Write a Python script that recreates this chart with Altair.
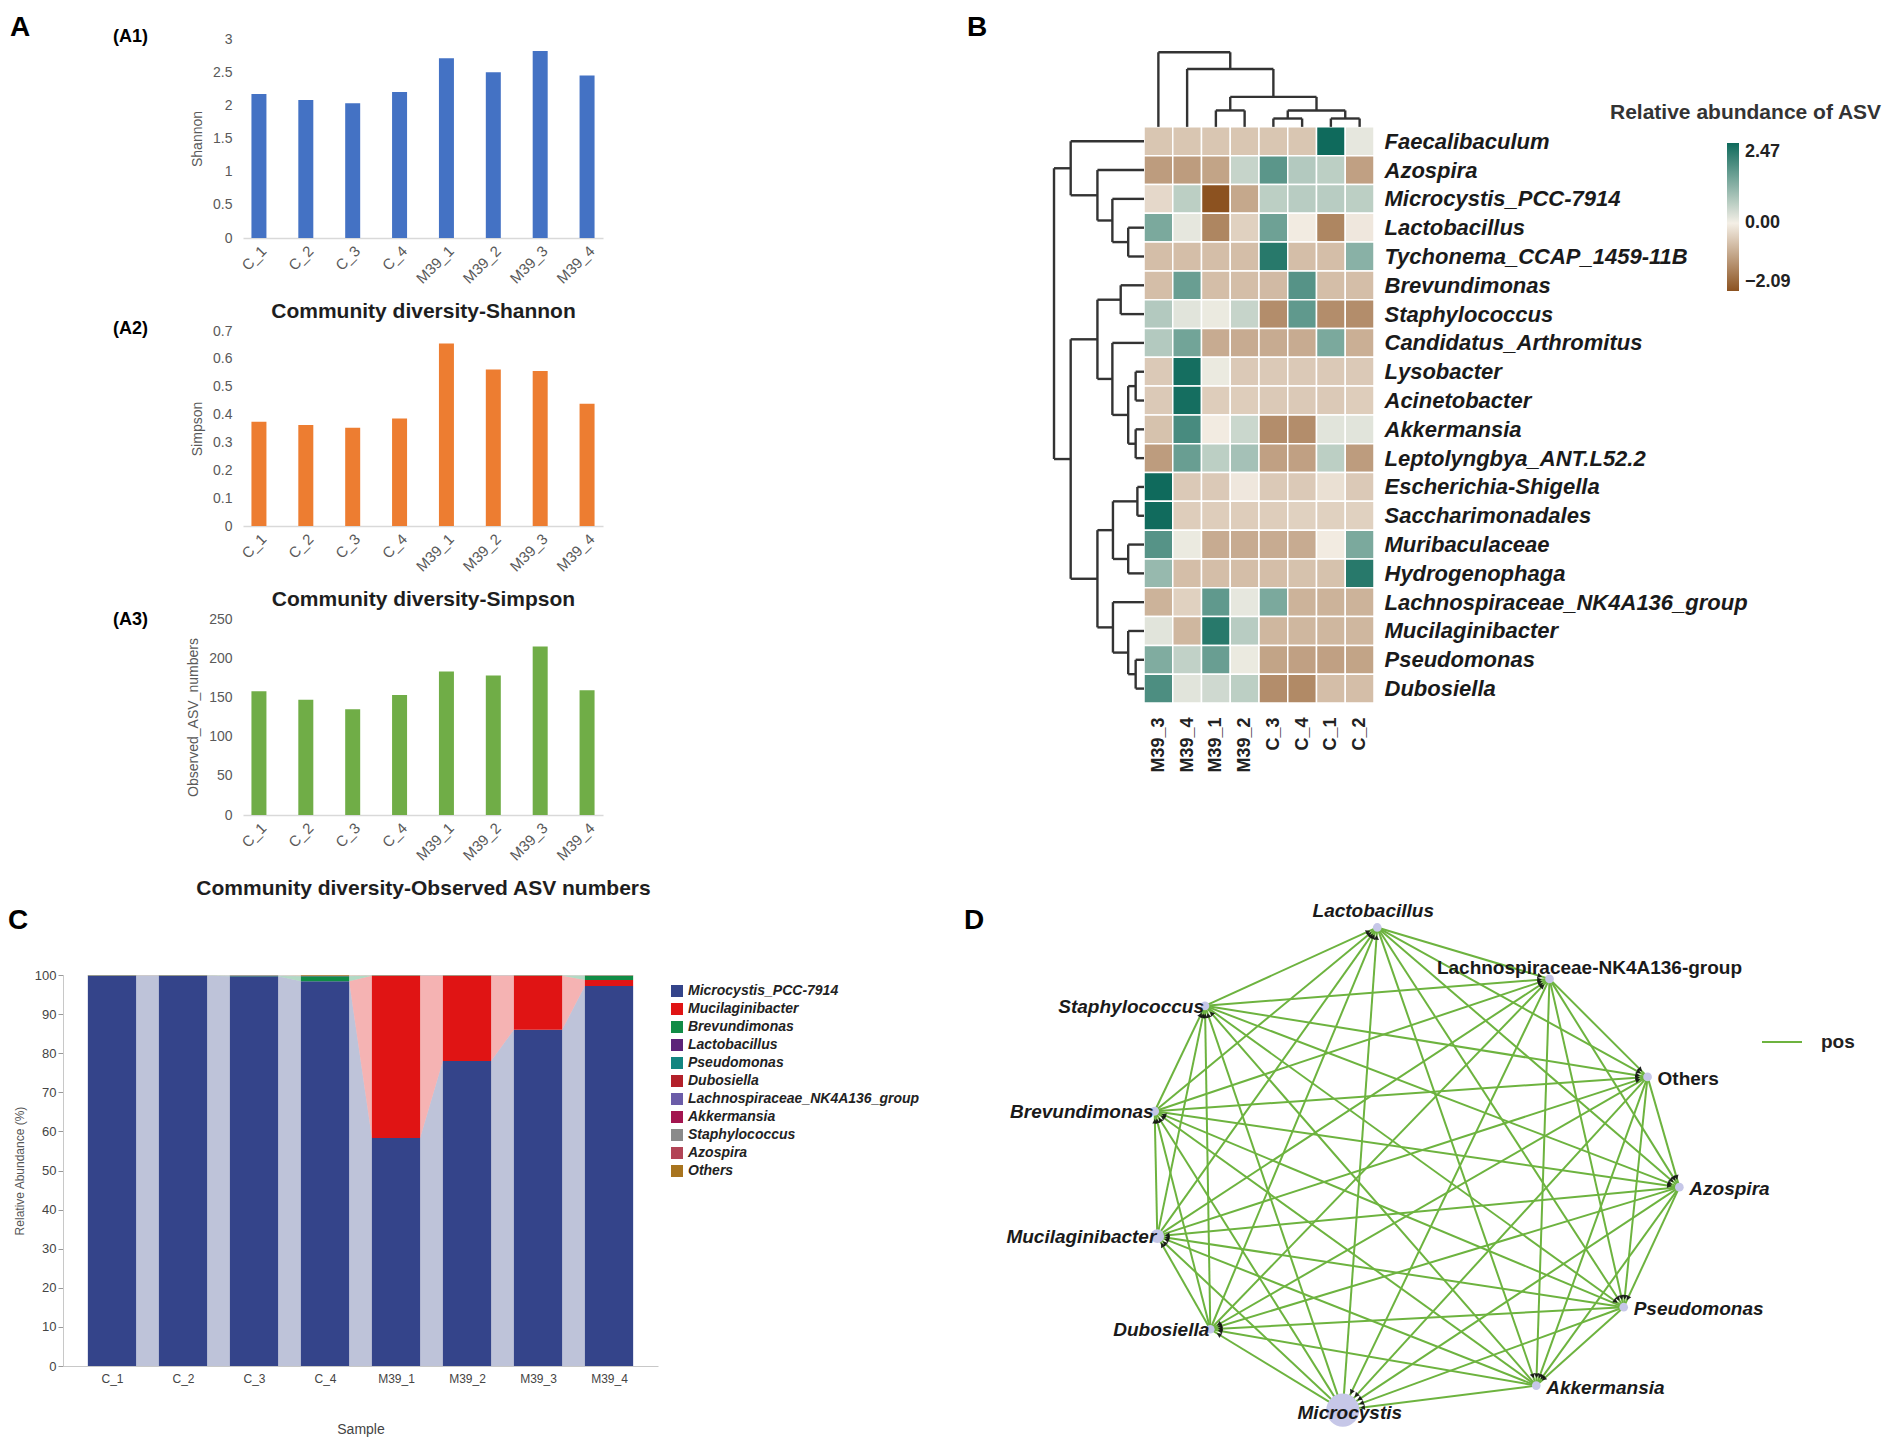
import math
import altair as alt
import pandas as pd

W, H = 1886, 1436
FONT = "Liberation Sans"
GREY = "#595959"

# ---------------- Panel A data ----------------
samples = ["C_1", "C_2", "C_3", "C_4", "M39_1", "M39_2", "M39_3", "M39_4"]
shannon = [2.17, 2.08, 2.03, 2.20, 2.71, 2.50, 2.82, 2.45]
simpson = [0.374, 0.363, 0.353, 0.386, 0.655, 0.562, 0.556, 0.439]
observed_asv = [158, 147, 135, 153, 183, 178, 215, 159]
shannon_ticks = [0, 0.5, 1, 1.5, 2, 2.5, 3]
simpson_ticks = [0, 0.1, 0.2, 0.3, 0.4, 0.5, 0.6, 0.7]
observed_ticks = [0, 50, 100, 150, 200, 250]

# ---------------- Panel B data ----------------
hm_rows = ["Faecalibaculum", "Azospira", "Microcystis_PCC-7914", "Lactobacillus",
           "Tychonema_CCAP_1459-11B", "Brevundimonas", "Staphylococcus",
           "Candidatus_Arthromitus", "Lysobacter", "Acinetobacter", "Akkermansia",
           "Leptolyngbya_ANT.L52.2", "Escherichia-Shigella", "Saccharimonadales",
           "Muribaculaceae", "Hydrogenophaga", "Lachnospiraceae_NK4A136_group",
           "Mucilaginibacter", "Pseudomonas", "Dubosiella"]
hm_cols = ["M39_3", "M39_4", "M39_1", "M39_2", "C_3", "C_4", "C_1", "C_2"]
hm_values = [
    [-0.55, -0.55, -0.55, -0.55, -0.55, -0.55, 2.47, 0.15],
    [-1.1, -1.1, -1.0, 0.5, 1.65, 0.7, 0.6, -1.05],
    [-0.3, 0.6, -2.09, -0.95, 0.6, 0.65, 0.65, 0.6],
    [1.3, 0.15, -1.4, -0.4, 1.45, -0.05, -1.4, -0.1],
    [-0.65, -0.65, -0.65, -0.65, 2.2, -0.65, -0.65, 1.15],
    [-0.65, 1.5, -0.65, -0.65, -0.7, 1.7, -0.65, -0.65],
    [0.7, 0.2, 0.1, 0.5, -1.3, 1.6, -1.3, -1.3],
    [0.7, 1.4, -0.9, -0.9, -0.9, -0.9, 1.3, -0.85],
    [-0.5, 2.4, 0.1, -0.5, -0.5, -0.5, -0.5, -0.5],
    [-0.5, 2.4, -0.45, -0.45, -0.5, -0.5, -0.5, -0.45],
    [-0.6, 1.85, -0.05, 0.45, -1.3, -1.3, 0.2, 0.2],
    [-1.1, 1.5, 0.6, 0.85, -1.05, -1.05, 0.6, -1.1],
    [2.47, -0.5, -0.5, -0.1, -0.5, -0.5, -0.2, -0.5],
    [2.45, -0.45, -0.45, -0.45, -0.45, -0.4, -0.4, -0.4],
    [1.7, 0.1, -0.9, -0.9, -0.9, -0.9, -0.05, 1.3],
    [1.0, -0.65, -0.65, -0.65, -0.65, -0.6, -0.6, 2.2],
    [-0.8, -0.4, 1.6, 0.15, 1.3, -0.8, -0.8, -0.8],
    [0.2, -0.75, 2.2, 0.65, -0.75, -0.75, -0.75, -0.75],
    [1.25, 0.55, 1.5, 0.1, -1.0, -1.05, -1.05, -1.0],
    [1.8, 0.2, 0.4, 0.6, -1.3, -1.35, -0.65, -0.65],
]
# hierarchical clustering merges: (child a, child b, height in cell units)
row_merges = [(3, 4, 0.55), (2, 20, 1.10), (1, 21, 1.62), (0, 22, 2.55),
              (5, 6, 0.81), (8, 9, 0.29), (10, 11, 0.29), (25, 26, 0.55),
              (7, 27, 1.10), (24, 28, 1.62), (12, 13, 0.23), (14, 15, 0.55),
              (30, 31, 1.08), (18, 19, 0.29), (17, 33, 0.55), (16, 34, 1.08),
              (32, 35, 1.62), (29, 36, 2.55), (23, 37, 3.13)]
col_merges = [(4, 5, 0.29), (6, 7, 0.29), (8, 9, 0.57), (2, 3, 0.57),
              (11, 10, 1.04), (1, 12, 2.01), (0, 13, 2.59)]
hm_legend_ticks = [-2.09, 0, 2.47]

# ---------------- Panel C data ----------------
taxa = ["Microcystis_PCC-7914", "Mucilaginibacter", "Brevundimonas", "Lactobacillus",
        "Pseudomonas", "Dubosiella", "Lachnospiraceae_NK4A136_group", "Akkermansia",
        "Staphylococcus", "Azospira", "Others"]
taxa_colors = ["#34448a", "#e01414", "#108c46", "#5c2479", "#128580", "#b3202a",
               "#6b5ca8", "#a3154f", "#8a8a8a", "#b24456", "#a8741e"]
microcystis = [99.80, 99.80, 99.70, 98.40, 58.30, 78.00, 86.00, 97.20]
mucilaginibacter = [0.00, 0.00, 0.00, 0.00, 41.50, 21.80, 13.80, 1.50]
brevundimonas = [0.05, 0.05, 0.05, 1.30, 0.05, 0.05, 0.05, 1.10]
lactobacillus = [0.02, 0.02, 0.02, 0.02, 0.02, 0.02, 0.02, 0.02]
pseudomonas = [0.01, 0.01, 0.01, 0.01, 0.02, 0.02, 0.02, 0.01]
dubosiella = [0.01, 0.01, 0.01, 0.01, 0.01, 0.01, 0.01, 0.01]
lachnospiraceae = [0.03, 0.03, 0.10, 0.05, 0.03, 0.03, 0.03, 0.05]
akkermansia = [0.01, 0.01, 0.01, 0.01, 0.01, 0.01, 0.01, 0.01]
staphylococcus = [0.01, 0.01, 0.01, 0.01, 0.01, 0.01, 0.01, 0.01]
azospira = [0.01, 0.01, 0.01, 0.01, 0.01, 0.01, 0.01, 0.01]
others = [0.05, 0.05, 0.08, 0.18, 0.04, 0.04, 0.04, 0.08]
composition = [microcystis, mucilaginibacter, brevundimonas, lactobacillus, pseudomonas,
               dubosiella, lachnospiraceae, akkermansia, staphylococcus, azospira, others]
c_ticks = [0, 10, 20, 30, 40, 50, 60, 70, 80, 90, 100]

# ---------------- Panel D data ----------------
net_nodes = ["Lactobacillus", "Lachnospiraceae-NK4A136-group", "Others", "Azospira",
             "Pseudomonas", "Akkermansia", "Microcystis", "Dubosiella",
             "Mucilaginibacter", "Brevundimonas", "Staphylococcus"]
net_x = [-0.15, 0.50, 0.87, 0.99, 0.78, 0.45, -0.28, -0.78, -0.98, -0.99, -0.80]
net_y = [0.99, 0.78, 0.38, -0.07, -0.56, -0.88, -0.98, -0.65, -0.27, 0.24, 0.67]
net_abund = [0.04, 0.05, 0.10, 0.01, 0.02, 0.01, 89.7, 0.01, 9.8, 0.3, 0.01]


# =============== Panel A ===============
def alpha_panel(values, ticks, color, ytitle, xtitle, y_top, y_bottom):
    df = pd.DataFrame({"sample": samples, "value": values})
    return alt.Chart(df).mark_bar(color=color).encode(
        x=alt.X("sample:N", sort=samples,
                scale=alt.Scale(range=[235, 595], paddingInner=0.68, paddingOuter=0.18),
                axis=alt.Axis(orient="bottom", offset=y_bottom - H, title=xtitle,
                              labelAngle=-45, ticks=False, domainColor="#d9d9d9",
                              domainWidth=1.5, labelColor=GREY, labelFontSize=15,
                              labelPadding=5, titleFontSize=21, titleFontWeight="bold",
                              titleColor="#1e1e1e", titlePadding=14, grid=False)),
        y=alt.Y("value:Q",
                scale=alt.Scale(domain=[ticks[0], ticks[-1]], range=[y_bottom, y_top],
                                nice=False, zero=True),
                axis=alt.Axis(orient="left", offset=-235, values=ticks,
                              labelExpr="format(datum.value, '~g')", domain=False,
                              ticks=False, grid=False, labelColor=GREY, labelFontSize=14,
                              labelPadding=11, title=ytitle, titleFontSize=14,
                              titleFontWeight="normal", titleColor=GREY, titlePadding=8)),
    )


a1 = alpha_panel(shannon, shannon_ticks, "#4472c4", "Shannon",
                 "Community diversity-Shannon", 31, 230)
a2 = alpha_panel(simpson, simpson_ticks, "#ed7d31", "Simpson",
                 "Community diversity-Simpson", 323, 518)
a3 = alpha_panel(observed_asv, observed_ticks, "#70ad47", "Observed_ASV_numbers",
                 "Community diversity-Observed ASV numbers", 611, 807)

# =============== Panel B ===============
hm_records = []
for r, name in enumerate(hm_rows):
    for c, col in enumerate(hm_cols):
        hm_records.append({"row": name, "col": col, "r0": r, "r1": r + 1,
                           "c0": c, "c1": c + 1, "v": hm_values[r][c]})
hm_df = pd.DataFrame(hm_records)


def dendro(merges, n):
    pos = {i: i + 0.5 for i in range(n)}
    hgt = {i: 0.0 for i in range(n)}
    segs = []
    for k, (a, b, h) in enumerate(merges):
        for ch in (a, b):
            segs.append((pos[ch], hgt[ch], pos[ch], h))
        segs.append((pos[a], h, pos[b], h))
        pos[n + k] = (pos[a] + pos[b]) / 2
        hgt[n + k] = h
    return segs


seg_records = []
for p1, h1, p2, h2 in dendro(col_merges, len(hm_cols)):
    seg_records.append({"x": p1, "x2": p2, "y": -h1, "y2": -h2})
for p1, h1, p2, h2 in dendro(row_merges, len(hm_rows)):
    seg_records.append({"x": -h1, "x2": -h2, "y": p1, "y2": p2})
seg_df = pd.DataFrame(seg_records)


def bx():
    return alt.Scale(domain=[-3.2, 8], range=[1044, 1366], nice=False, zero=False)


def by():
    return alt.Scale(domain=[-3.05, 20], range=[31, 695], nice=False, zero=False)


row_expr = "[" + ",".join("'" + n + "'" for n in hm_rows) + "][floor(datum.value)]"
col_expr = "[" + ",".join("'" + n + "'" for n in hm_cols) + "][floor(datum.value)]"

heat = alt.Chart(hm_df).mark_rect(stroke="white", strokeWidth=1.5).encode(
    x=alt.X("c0:Q", scale=bx(),
            axis=alt.Axis(orient="bottom", offset=695 - H,
                          values=[i + 0.5 for i in range(len(hm_cols))],
                          labelExpr=col_expr, labelAngle=-90, labelFontSize=18,
                          labelFontWeight="bold", labelColor="#222", domain=False,
                          ticks=False, grid=False, labelPadding=14, labelOverlap=False,
                          labelFlush=False, title=None)),
    x2="c1:Q",
    y=alt.Y("r0:Q", scale=by(),
            axis=alt.Axis(orient="right", offset=1366 - W,
                          values=[i + 0.5 for i in range(len(hm_rows))],
                          labelExpr=row_expr, labelFontSize=22, labelFontStyle="italic",
                          labelFontWeight="bold", labelColor="#1a1a1a", domain=False,
                          ticks=False, grid=False, labelPadding=10, labelOverlap=False,
                          labelFlush=False, labelLimit=500, title=None)),
    y2="r1:Q",
    color=alt.Color("v:Q",
                    scale=alt.Scale(domain=[-2.09, 0, 2.47],
                                    range=["#8c5220", "#f4efe6", "#0f6a5c"],
                                    interpolate="rgb"),
                    legend=alt.Legend(orient="none", legendX=1719, legendY=135,
                                      direction="vertical", title=None,
                                      gradientLength=148, gradientThickness=12,
                                      values=hm_legend_ticks, format=".2f",
                                      labelFontSize=18, labelFontWeight="bold",
                                      labelColor="#222", gradientStrokeWidth=0,
                                      labelOffset=6)),
)
dendro_layer = alt.Chart(seg_df).mark_rule(color="#333333", strokeWidth=2.4).encode(
    x=alt.X("x:Q", scale=bx(), axis=None), x2="x2:Q",
    y=alt.Y("y:Q", scale=by(), axis=None), y2="y2:Q",
)

# =============== Panel C ===============
BAR = 0.68
stack_records = []
stack = {}
for i, s in enumerate(samples):
    cum = 0.0
    for k, t in enumerate(taxa):
        v = composition[k][i]
        stack[(i, k)] = (cum, cum + v)
        stack_records.append({"sample": s, "taxon": t, "x0": i, "x1": i + BAR,
                              "y0": cum, "y1": cum + v})
        cum += v
stack_df = pd.DataFrame(stack_records)
band_records = []
for k, t in enumerate(taxa):
    for i in range(len(samples) - 1):
        lo_a, hi_a = stack[(i, k)]
        lo_b, hi_b = stack[(i + 1, k)]
        band_records.append({"taxon": t, "seg": i, "x": i + BAR, "lo": lo_a, "hi": hi_a})
        band_records.append({"taxon": t, "seg": i, "x": i + 1, "lo": lo_b, "hi": hi_b})
band_df = pd.DataFrame(band_records)


def cx():
    return alt.Scale(domain=[-0.35, 8.03], range=[55, 650], nice=False, zero=False)


def cy():
    return alt.Scale(domain=[0, 100], range=[1358, 967], nice=False)


def ccolor():
    return alt.Scale(domain=taxa, range=taxa_colors)


sample_expr = "[" + ",".join("'" + n + "'" for n in samples) + "][floor(datum.value)]"

c_bars = alt.Chart(stack_df).mark_rect().encode(
    x=alt.X("x0:Q", scale=cx(),
            axis=alt.Axis(orient="bottom", offset=1358 - H,
                          values=[i + BAR / 2 for i in range(len(samples))],
                          labelExpr=sample_expr, ticks=False, domainColor="#c8c8c8",
                          labelFontSize=12, labelColor="#444", labelPadding=7,
                          labelFlush=False, grid=False, title="Sample", titleFontSize=14,
                          titleFontWeight="normal", titleColor="#444", titlePadding=38)),
    x2="x1:Q",
    y=alt.Y("y0:Q", scale=cy(),
            axis=alt.Axis(orient="left", offset=-55, values=c_ticks, ticks=True,
                          tickSize=5, tickColor="#999", domainColor="#c8c8c8",
                          labelFontSize=13, labelColor="#444", grid=False,
                          title="Relative Abundance (%)", titleFontSize=12,
                          titleFontWeight="normal", titleColor="#555", titlePadding=8)),
    y2="y1:Q",
    color=alt.Color("taxon:N", scale=ccolor(),
                    legend=alt.Legend(orient="none", legendX=662, legendY=976, title=None,
                                      symbolType="square", symbolSize=144,
                                      symbolOpacity=1, labelFontSize=14,
                                      labelFontStyle="italic", labelFontWeight="bold",
                                      labelColor="#222", rowPadding=4, labelLimit=400)),
)
c_bands = alt.Chart(band_df).mark_area(opacity=0.32).encode(
    x=alt.X("x:Q", scale=cx(), axis=None),
    y=alt.Y("lo:Q", scale=cy(), axis=None, stack=False),
    y2="hi:Q",
    color=alt.Color("taxon:N", scale=ccolor(), legend=None),
    detail="seg:N",
)


# =============== Panel D ===============
def side_of(x, y):
    if y > 0.9:
        return "top"
    if y > 0.7 and x > 0.3:
        return "topright"
    if y < -0.95:
        return "bottom"
    return "right" if x > 0 else "left"


PX, PY = 265.0, 245.0  # pixels per layout unit
nodes_df = pd.DataFrame({"name": net_nodes, "x": net_x, "y": net_y, "abund": net_abund})
nodes_df["side"] = [side_of(x, y) for x, y in zip(net_x, net_y)]
n_nodes = len(net_nodes)
edge_records = []
arrow_records = []
for i in range(n_nodes):
    for j in range(i + 1, n_nodes):
        edge_records.append({"x": net_x[i], "y": net_y[i], "x2": net_x[j],
                             "y2": net_y[j], "type": "pos"})
        tgt, src = (j, i) if (j - i) % n_nodes <= 5 else (i, j)
        vx = (net_x[tgt] - net_x[src]) * PX
        vy = -(net_y[tgt] - net_y[src]) * PY
        dist = math.hypot(vx, vy)
        back = (20.0 if net_nodes[tgt] == "Microcystis" else 10.0) / dist
        ang = math.degrees(math.atan2(vx, -vy)) % 360
        arrow_records.append({"x": net_x[tgt] - (net_x[tgt] - net_x[src]) * back,
                              "y": net_y[tgt] - (net_y[tgt] - net_y[src]) * back,
                              "ang": ang})
edges_df = pd.DataFrame(edge_records)
arrows_df = pd.DataFrame(arrow_records)


def dxs():
    return alt.Scale(domain=[-1.1, 1.1], range=[1117.5, 1700.5], nice=False, zero=False)


def dys():
    return alt.Scale(domain=[-1.1, 1.1], range=[1431.5, 892.5], nice=False, zero=False)


d_edges = alt.Chart(edges_df).mark_rule(strokeWidth=2).encode(
    x=alt.X("x:Q", scale=dxs(), axis=None), x2="x2:Q",
    y=alt.Y("y:Q", scale=dys(), axis=None), y2="y2:Q",
    color=alt.Color("type:N", scale=alt.Scale(domain=["pos"], range=["#6db33f"]),
                    legend=alt.Legend(orient="none", legendX=1753, legendY=1013,
                                      title=None, symbolType="stroke", symbolSize=1600,
                                      symbolStrokeWidth=2, labelFontSize=19,
                                      labelFontWeight="bold", labelColor="#222",
                                      labelOffset=18)),
)
d_arrows = alt.Chart(arrows_df).mark_point(shape="triangle-up", filled=True,
                                            color="#111111", size=28, opacity=0.9).encode(
    x=alt.X("x:Q", scale=dxs(), axis=None),
    y=alt.Y("y:Q", scale=dys(), axis=None),
    angle=alt.Angle("ang:Q", scale=None),
)
d_nodes = alt.Chart(nodes_df).mark_circle(color="#c6c7e8", opacity=1).encode(
    x=alt.X("x:Q", scale=dxs(), axis=None),
    y=alt.Y("y:Q", scale=dys(), axis=None),
    size=alt.Size("abund:Q", scale=alt.Scale(domain=[0, 90], range=[75, 1100]),
                  legend=None),
)


def node_labels(sides, align, dx, dy, style="italic", exclude=None, only=None):
    sub = nodes_df[nodes_df["side"].isin(sides)]
    if exclude is not None:
        sub = sub[~sub["name"].isin(exclude)]
    if only is not None:
        sub = sub[sub["name"].isin(only)]
    return alt.Chart(sub).mark_text(align=align, baseline="middle", dx=dx, dy=dy,
                                    fontSize=19, fontWeight="bold", fontStyle=style,
                                    color="#1a1a1a").encode(
        x=alt.X("x:Q", scale=dxs(), axis=None),
        y=alt.Y("y:Q", scale=dys(), axis=None),
        text="name:N",
    )


d_labels = [
    node_labels(["top"], "center", -4, -16),
    node_labels(["topright"], "center", 40, -11, style="normal"),
    node_labels(["right"], "left", 10, 2, exclude=["Others"]),
    node_labels(["right"], "left", 10, 2, style="normal", only=["Others"]),
    node_labels(["bottom"], "center", 7, 3),
    node_labels(["left"], "right", -1, 1),
]


# =============== free text ===============
def label(text, x, y, size, weight="bold", align="left", color="#000000"):
    return alt.Chart(pd.DataFrame({"t": [text]})).mark_text(
        align=align, baseline="alphabetic", fontSize=size, fontWeight=weight,
        color=color).encode(x=alt.value(x), y=alt.value(y), text="t:N")


texts = [
    label("A", 2, 28, 28), label("B", 959, 28, 28),
    label("C", 0, 921, 28), label("D", 956, 921, 28),
    label("(A1)", 105, 34, 18), label("(A2)", 105, 326, 18), label("(A3)", 105, 617, 18),
    label("Relative abundance of ASV", 1602, 111, 21, color="#333333"),
]

chart = alt.layer(
    a1, a2, a3, heat, dendro_layer, c_bands, c_bars, d_edges, d_arrows, d_nodes,
    *d_labels, *texts
).resolve_scale(
    x="independent", y="independent", color="independent", size="independent"
).properties(
    width=W, height=H, autosize=alt.AutoSizeParams(type="none"), padding=0
).configure(font=FONT).configure_view(strokeWidth=0)

chart.save("out.html", embed_options={"renderer": "svg", "actions": False})
